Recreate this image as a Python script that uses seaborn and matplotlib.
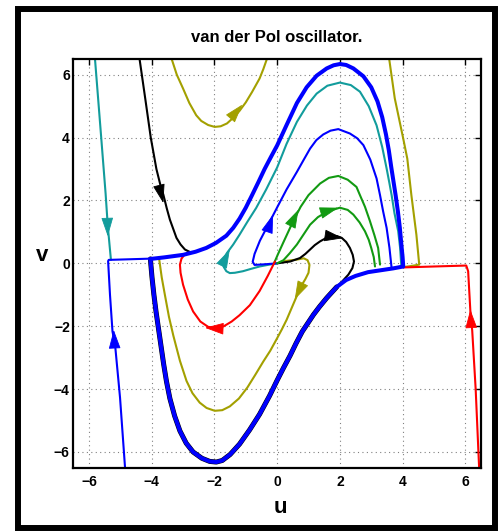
import numpy as np
import pandas as pd
import matplotlib
matplotlib.use("Agg")
import matplotlib.pyplot as plt
import seaborn as sns
from matplotlib.patches import Rectangle

# ---------------- data ----------------
# limit cycle: upper branch (left corner -> right corner), lower branch (right -> left)
cyc_up_u = [-4.04, -3.6, -3.0, -2.6, -2.26, -1.95, -1.62, -1.4, -1.2, -1.0, -0.8, -0.6, -0.4, -0.2, 0.0,
            0.31, 0.63, 0.94, 1.26, 1.58, 1.8, 2.0, 2.2, 2.43, 2.75, 3.0, 3.2, 3.35, 3.47, 3.56, 3.64,
            3.71, 3.78, 3.85, 3.91, 3.96, 4.0, 4.02]
cyc_up_v = [0.14, 0.19, 0.27, 0.37, 0.49, 0.65, 0.88, 1.13, 1.42, 1.77, 2.17, 2.58, 3.0, 3.38, 3.75,
            4.42, 5.1, 5.6, 5.97, 6.2, 6.3, 6.34, 6.31, 6.2, 5.95, 5.6, 5.15, 4.65, 4.1, 3.6, 3.05,
            2.6, 2.15, 1.65, 1.15, 0.6, 0.2, -0.1]
cyc_lo_u = [4.02, 3.7, 3.3, 2.9, 2.5, 2.2, 1.9, 1.58, 1.35, 1.16, 0.98, 0.8, 0.6, 0.41, 0.2, 0.0,
            -0.24, -0.56, -0.88, -1.2, -1.5, -1.75, -1.94, -2.15, -2.4, -2.68, -2.9, -3.1, -3.27,
            -3.42, -3.53, -3.62, -3.7, -3.78, -3.86, -3.93, -3.99, -4.03, -4.04]
cyc_lo_v = [-0.1, -0.16, -0.22, -0.28, -0.4, -0.53, -0.75, -1.1, -1.38, -1.63, -1.9, -2.17, -2.55, -2.94,
            -3.33, -3.72, -4.21, -4.8, -5.3, -5.75, -6.08, -6.27, -6.32, -6.3, -6.2, -6.0, -5.72, -5.33,
            -4.85, -4.3, -3.75, -3.2, -2.65, -2.1, -1.55, -1.0, -0.45, 0.0, 0.14]

cyan_left_u = [-5.81, -5.61, -5.47, -5.40, -5.30]
cyan_left_v = [6.52, 4.0, 2.22, 1.18, 0.11]

black_up_u = [-4.39, -4.2, -4.03, -3.85, -3.7, -3.63, -3.52, -3.42, -3.21, -3.08, -2.94, -2.78, -2.68]
black_up_v = [6.52, 5.2, 4.0, 3.0, 2.4, 2.19, 1.75, 1.39, 0.81, 0.6, 0.44, 0.36, 0.36]

blue_left_u = [-4.85, -5.01, -5.17, -5.25, -5.33, -5.39, -5.37, -4.7, -4.04]
blue_left_v = [-6.5, -4.27, -2.57, -2.17, -1.0, 0.07, 0.11, 0.13, 0.15]

red_right_u = [6.44, 6.33, 6.22, 6.16, 6.09, 6.03, 5.0, 4.02]
red_right_v = [-6.5, -4.0, -2.14, -1.5, -0.25, -0.07, -0.1, -0.13]

olive_right_u = [3.57, 3.75, 4.02, 4.15, 4.28, 4.44, 4.53, 4.3, 4.02]
olive_right_v = [6.52, 5.25, 3.97, 3.33, 2.17, 0.91, -0.04, -0.08, -0.12]

olive_top_u = [-3.37, -3.2, -3.0, -2.8, -2.58, -2.42, -2.2, -1.99, -1.8, -1.6, -1.4, -1.2, -1.0,
               -0.8, -0.56, -0.44, -0.32]
olive_top_v = [6.52, 6.0, 5.56, 5.1, 4.71, 4.53, 4.4, 4.34, 4.36, 4.45, 4.63, 4.85, 5.12,
               5.45, 5.88, 6.18, 6.52]

olive_mid_u = [0.05, 0.3, 0.63, 0.85, 0.97, 1.03, 1.0, 0.9, 0.73, 0.6, 0.45, 0.3, 0.15, 0.0, -0.22,
               -0.44, -0.7, -0.95, -1.22, -1.51, -1.75, -1.99, -2.25, -2.47, -2.7, -2.89, -3.1,
               -3.31, -3.45, -3.58, -3.68, -3.76]
olive_mid_v = [0.02, 0.08, 0.12, 0.16, 0.1, -0.05, -0.3, -0.5, -0.78, -1.1, -1.45, -1.8, -2.1, -2.38,
               -2.78, -3.12, -3.55, -3.95, -4.3, -4.55, -4.67, -4.69, -4.6, -4.43, -4.13, -3.74, -3.1,
               -2.3, -1.7, -1.0, -0.45, 0.12]

black_mid_u = [0.0, 0.42, 0.73, 0.9, 1.05, 1.2, 1.37, 1.55, 1.74, 1.9, 2.06, 2.2, 2.32, 2.41, 2.45,
               2.4, 2.27, 2.06, 1.85]
black_mid_v = [0.0, 0.06, 0.17, 0.3, 0.44, 0.58, 0.70, 0.8, 0.86, 0.87, 0.81, 0.68, 0.49, 0.27, 0.06,
               -0.15, -0.36, -0.59, -0.8]

cyan_mid_u = [0.0, -0.3, -0.56, -0.85, -1.09, -1.35, -1.51, -1.62, -1.7, -1.74, -1.7, -1.6, -1.4,
              -1.2, -0.95, -0.67, -0.35, 0.0, 0.3, 0.63, 0.95, 1.26, 1.6, 2.0, 2.35, 2.64, 2.92, 3.17,
              3.35, 3.49, 3.58, 3.65, 3.74, 3.86, 3.92, 3.96]
cyan_mid_v = [0.0, -0.05, -0.1, -0.18, -0.25, -0.3, -0.31, -0.25, -0.12, 0.02, 0.15, 0.33, 0.6,
              0.91, 1.32, 1.76, 2.35, 3.05, 3.8, 4.5, 5.02, 5.4, 5.65, 5.75, 5.67, 5.46, 5.0, 4.39,
              3.7, 3.02, 2.55, 2.17, 1.6, 1.02, 0.5, -0.1]

blue_mid_u = [0.0, -0.4, -0.72, -0.78, -0.72, -0.55, -0.3, 0.0, 0.3, 0.63, 0.85, 1.05, 1.25, 1.47,
              1.7, 1.95, 2.32, 2.55, 2.75, 2.97, 3.17, 3.28, 3.38, 3.49, 3.58, 3.65]
blue_mid_v = [0.0, -0.03, -0.05, 0.05, 0.3, 0.72, 1.2, 1.78, 2.35, 2.91, 3.3, 3.65, 3.92, 4.1,
              4.22, 4.27, 4.13, 3.98, 3.76, 3.3, 2.70, 2.17, 1.65, 1.13, 0.5, -0.15]

green_out_u = [-0.1, 0.03, 0.19, 0.51, 0.75, 1.0, 1.37, 1.65, 1.95, 2.25, 2.53, 2.64, 2.8, 2.96,
               3.1, 3.22, 3.28]
green_out_v = [0.0, 0.3, 0.65, 1.34, 1.8, 2.17, 2.54, 2.72, 2.78, 2.66, 2.43, 2.17, 1.8, 1.34,
               0.9, 0.49, -0.04]

green_in_u = [0.0, 0.2, 0.4, 0.63, 1.05, 1.3, 1.6, 2.0, 2.25, 2.43, 2.63, 2.80, 2.92, 3.0, 3.08, 3.12]
green_in_v = [0.0, 0.1, 0.32, 0.6, 1.23, 1.47, 1.65, 1.77, 1.7, 1.55, 1.3, 1.02, 0.75, 0.49, 0.2, -0.1]

red_mid_u = [-0.07, -0.3, -0.56, -0.87, -1.2, -1.45, -1.7, -1.94, -2.2, -2.45, -2.68, -2.85, -3.0,
             -3.08, -3.1, -3.05, -2.95]
red_mid_v = [0.06, -0.4, -0.88, -1.33, -1.65, -1.85, -2.0, -2.06, -2.02, -1.85, -1.53, -1.15, -0.68,
             -0.3, -0.04, 0.15, 0.28]

# arrow heads: tip position and direction
arrow_u = [-5.40, -3.63, -1.11, -1.51, -0.13, 0.68, 1.95, 2.10, 0.56, -2.30, -5.21, 6.16]
arrow_v = [0.86, 1.92, 5.05, 0.44, 1.55, 1.71, 1.77, 0.80, -1.15, -2.05, -2.12, -1.47]
arrow_du = [0.03, 0.25, 0.65, 0.45, 0.35, 0.5, 1.0, 1.0, -0.5, -1.0, -0.05, -0.05]
arrow_dv = [-1.0, -1.0, 0.76, 0.9, 1.0, 1.0, 0.3, -0.15, -1.0, 0.05, 1.0, 1.0]

ticks = [-6, -4, -2, 0, 2, 4, 6]

# ---------------- styling ----------------
TEAL = "#129c9c"
OLIVE = "#a3a000"
GREEN = "#129a12"
BLUE = "#0000ff"
RED = "#ff0000"
BLACK = "#000000"
arrow_col = [TEAL, BLACK, OLIVE, TEAL, BLUE, GREEN, GREEN, BLACK, OLIVE, RED, BLUE, RED]

sns.set_theme(style="white")
plt.rcParams["font.family"] = ["Liberation Sans", "DejaVu Sans"]
plt.rcParams["font.weight"] = "bold"
for key in ["text.color", "axes.labelcolor", "xtick.color", "ytick.color", "axes.edgecolor"]:
    plt.rcParams[key] = "black"

fig = plt.figure(figsize=(4.98, 5.31), dpi=100)
ax = fig.add_axes([73.3 / 498, 1 - 467.7 / 531, (481 - 73.3) / 498, (467.7 - 59) / 531])

def line(u, v, color, lw=1.5, z=2):
    df = pd.DataFrame({"u": u, "v": v})
    sns.lineplot(data=df, x="u", y="v", sort=False, estimator=None, color=color,
                 linewidth=lw, ax=ax, zorder=z, solid_capstyle="round", solid_joinstyle="round")

line(cyc_lo_u[6:], cyc_lo_v[6:], BLACK, lw=3.6, z=1.5)
line(cyan_left_u, cyan_left_v, TEAL)
line(black_up_u, black_up_v, BLACK)
line(olive_right_u, olive_right_v, OLIVE)
line(olive_top_u, olive_top_v, OLIVE)
line(olive_mid_u, olive_mid_v, OLIVE)
line(black_mid_u, black_mid_v, BLACK)
line(cyan_mid_u, cyan_mid_v, TEAL)
line(blue_mid_u, blue_mid_v, BLUE)
line(green_out_u, green_out_v, GREEN)
line(green_in_u, green_in_v, GREEN)
line(red_mid_u, red_mid_v, RED)
line(red_right_u, red_right_v, RED)
line(blue_left_u, blue_left_v, BLUE)
line(cyc_up_u + cyc_lo_u[1:], cyc_up_v + cyc_lo_v[1:], BLUE, lw=2.9, z=3)

for tu, tv, du, dv, c in zip(arrow_u, arrow_v, arrow_du, arrow_dv, arrow_col):
    n = np.hypot(du, dv)
    ax.annotate("", xy=(tu, tv), xytext=(tu - 0.5 * du / n, tv - 0.5 * dv / n),
                arrowprops=dict(arrowstyle="-|>,head_length=1.2,head_width=0.38",
                                mutation_scale=10, color=c, lw=0.6,
                                shrinkA=0, shrinkB=0), zorder=4)

ax.set_xlim(-6.5, 6.5)
ax.set_ylim(-6.5, 6.5)
ax.set_xticks(ticks)
ax.set_yticks(ticks)
ax.set_xticklabels([f"{t}".replace("-", "\u2212") for t in ticks], fontsize=10, fontweight="bold",
                   color="black")
ax.set_yticklabels([f"{t}".replace("-", "\u2212") for t in ticks], fontsize=10, fontweight="bold",
                   color="black")
ax.tick_params(axis="both", direction="in", length=4, width=1, top=True, right=True, colors="black")
ax.tick_params(axis="x", pad=5)
ax.tick_params(axis="y", pad=2.5)
ax.grid(True, linestyle=(0, (1, 3)), color="#808080", linewidth=0.8)
ax.set_axisbelow(True)
for s in ax.spines.values():
    s.set_color("black")
    s.set_linewidth(1.6)
    s.set_visible(True)

ax.set_title("van der Pol oscillator.", fontsize=12, fontweight="bold", pad=12, color="black")
ax.set_xlabel("u", fontsize=16, fontweight="bold", color="black")
ax.set_ylabel("v", fontsize=16, fontweight="bold", rotation=0, color="black")
ax.xaxis.set_label_coords(0.509, -0.0986)
ax.xaxis.label.set_va("center")
ax.yaxis.set_label_coords(-0.0755, 0.519)
ax.yaxis.label.set_va("center")
ax.yaxis.label.set_ha("center")

fig.add_artist(Rectangle((18 / 498, 1 - 528 / 531), (495 - 18) / 498, (528 - 9) / 531,
                         transform=fig.transFigure, fill=False, lw=4.3, ec="black"))

fig.savefig("out.png", dpi=100)
